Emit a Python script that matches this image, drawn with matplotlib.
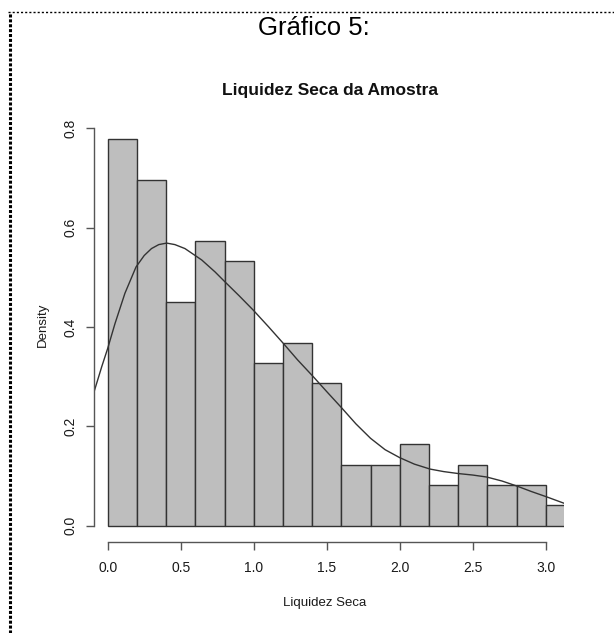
import numpy as np
import matplotlib
matplotlib.use("Agg")
import matplotlib.pyplot as plt
from matplotlib.lines import Line2D

plt.rcParams['font.family'] = ['Liberation Sans', 'DejaVu Sans']

# histogram bins (width 0.2) and density heights
bin_edges = [0.0, 0.2, 0.4, 0.6, 0.8, 1.0, 1.2, 1.4, 1.6, 1.8, 2.0, 2.2, 2.4, 2.6, 2.8, 3.0, 3.2]
densities = [0.778, 0.697, 0.451, 0.573, 0.532, 0.328, 0.368, 0.287, 0.123, 0.123,
             0.164, 0.082, 0.123, 0.082, 0.082, 0.041]

# kernel density curve
curve_x = [-0.093, -0.041, 0.0, 0.05, 0.118, 0.194, 0.25, 0.30, 0.35, 0.404, 0.46, 0.529,
           0.644, 0.735, 0.803, 0.90, 0.997, 1.10, 1.203, 1.30, 1.408, 1.50, 1.6, 1.7,
           1.8, 1.9, 2.0, 2.1, 2.208, 2.30, 2.401, 2.50, 2.596, 2.70, 2.801, 2.90,
           3.007, 3.127]
curve_y = [0.270, 0.320, 0.357, 0.407, 0.468, 0.521, 0.544, 0.558, 0.566, 0.569, 0.566,
           0.558, 0.535, 0.511, 0.491, 0.463, 0.434, 0.401, 0.367, 0.334, 0.300, 0.270,
           0.238, 0.205, 0.176, 0.153, 0.137, 0.124, 0.114, 0.109, 0.105, 0.102, 0.098,
           0.090, 0.080, 0.069, 0.058, 0.045]

x_ticks = [0.0, 0.5, 1.0, 1.5, 2.0, 2.5, 3.0]
y_ticks = [0.0, 0.2, 0.4, 0.6, 0.8]

W, H = 614, 633
fig = plt.figure(figsize=(W / 100, H / 100), dpi=100)

# axes placed in pixel terms
left, right, bottom, top = 94, 564.3, 541.7, 123.4
ax = fig.add_axes([left / W, (H - bottom) / H, (right - left) / W, (bottom - top) / H])

widths = np.diff(bin_edges)
ax.bar(bin_edges[:-1], densities, width=widths, align='edge',
       color='#bebebe', edgecolor='#333333', linewidth=1.0)
ax.plot(curve_x, curve_y, color='#333333', linewidth=1.0)

ax.set_xlim(-0.0938, 3.127)
ax.set_ylim(-0.0322, 0.81)

for s in ['top', 'right']:
    ax.spines[s].set_visible(False)
ax.spines['left'].set_bounds(0, 0.8)
ax.spines['bottom'].set_bounds(0, 3.0)
for s in ['left', 'bottom']:
    ax.spines[s].set_color('#555555')
    ax.spines[s].set_linewidth(1.0)

ax.set_xticks(x_ticks)
ax.set_xticklabels([f"{v:.1f}" for v in x_ticks])
ax.set_yticks(y_ticks)
ax.set_yticklabels([f"{v:.1f}" for v in y_ticks], rotation=90, va='center')
ax.tick_params(axis='both', direction='out', length=6, width=1.0, color='#555555',
               labelsize=10, labelcolor='#1a1a1a')
ax.tick_params(axis='x', pad=8)
ax.tick_params(axis='y', pad=6)

fig.text(43 / W, 1 - 325 / H, "Density", rotation=90, ha='center', va='center',
         fontsize=9.5, color='#1a1a1a')
fig.text(325 / W, 1 - 603 / H, "Liquidez Seca", ha='center', va='center',
         fontsize=9.5, color='#1a1a1a')
fig.text(330 / W, 1 - 90 / H, "Liquidez Seca da Amostra", ha='center', va='center',
         fontsize=12.5, fontweight='bold', color='#111111')
fig.text(314 / W, 1 - 28 / H, "Gráfico 5:", ha='center', va='center',
         fontsize=18.5, color='#000000')

# dotted frame on top and left edges
fig.add_artist(Line2D([8 / W, 1.0], [1 - 12 / H, 1 - 12 / H], transform=fig.transFigure,
                      color='black', linewidth=1.0, linestyle=(0, (1.5, 1.5))))
fig.add_artist(Line2D([9.5 / W, 9.5 / W], [0, 1 - 12 / H], transform=fig.transFigure,
                      color='black', linewidth=2.2, linestyle=(0, (1, 0.6))))

fig.savefig("out.png", dpi=100)
